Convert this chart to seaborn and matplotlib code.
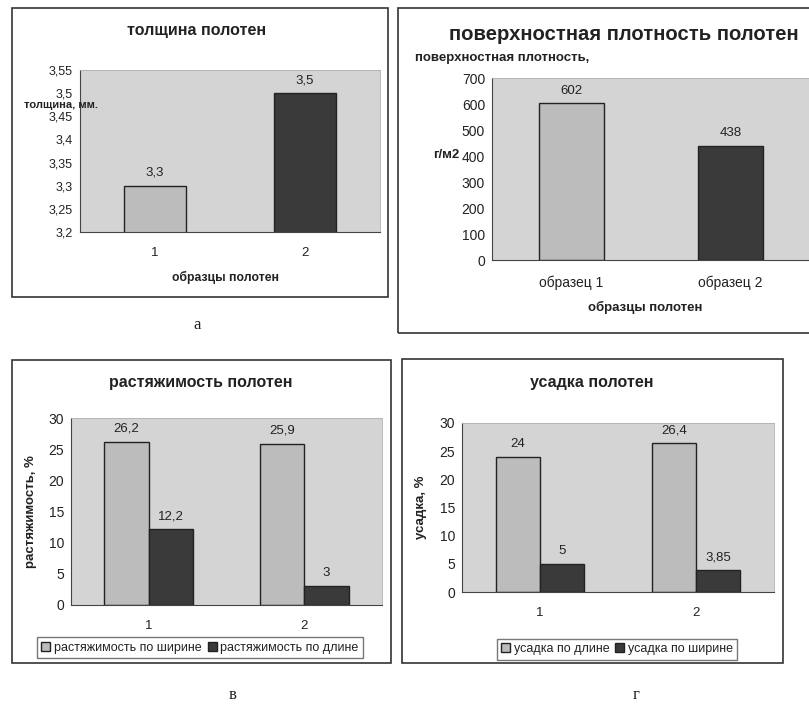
import pandas as pd
import matplotlib.pyplot as plt
import matplotlib.patches as mpatches
import seaborn as sns

# Данные
thick_samples = ["1", "2"]
thick_values = [3.3, 3.5]

dens_samples = ["образец 1", "образец 2"]
dens_values = [602, 438]

stretch_samples = ["1", "2"]
stretch_width = [26.2, 25.9]
stretch_length = [12.2, 3]
stretch_series = ["растяжимость по ширине", "растяжимость по длине"]

shrink_samples = ["1", "2"]
shrink_length = [24, 26.4]
shrink_width = [5, 3.85]
shrink_series = ["усадка по длине", "усадка по ширине"]

sns.set_style("white")
plt.rcParams["font.family"] = ["Liberation Sans", "DejaVu Sans"]

W, H = 809, 705
LIGHT = "#bcbcbc"
DARK = "#3a3a3a"
BG = "#d4d4d4"
TXT = "#222222"

fig = plt.figure(figsize=(W / 100, H / 100), dpi=100)


def px_axes(x0, y0, x1, y1):
    # пиксели (верх слева) -> координаты фигуры
    return fig.add_axes([x0 / W, 1 - y1 / H, (x1 - x0) / W, (y1 - y0) / H])


def frame(x0, y0, x1, y1):
    fig.patches.append(mpatches.Rectangle((x0 / W, 1 - y1 / H), (x1 - x0) / W, (y1 - y0) / H,
                                          transform=fig.transFigure, fill=False,
                                          edgecolor="#333333", linewidth=1.2))


def ftext(x, y, s, **kw):
    fig.text(x / W, 1 - y / H, s, color=TXT, **kw)


def comma(v):
    return ("%g" % v).replace(".", ",")


def style_axes(ax, ymin, ymax, step, fmt, xsize=9.5, ysize=10):
    ax.set_facecolor(BG)
    ax.set_ylim(ymin, ymax)
    ticks = []
    t = ymin
    while t <= ymax + 1e-9:
        ticks.append(round(t, 4))
        t += step
    ax.set_yticks(ticks)
    ax.set_yticklabels([fmt(t) for t in ticks])
    ax.set_xlim(-0.5, 1.5)
    ax.set_xticks([0.0, 1.0], minor=False)
    ax.set_xticks([-0.5, 0.5, 1.5], minor=True)
    ax.tick_params(axis="y", length=3, width=0.8, colors="#444444", labelsize=ysize, labelcolor=TXT, pad=2)
    ax.tick_params(axis="x", which="major", length=0, labelsize=xsize, labelcolor=TXT, pad=11)
    ax.tick_params(axis="x", which="minor", length=3, width=0.8, colors="#444444")
    for side in ["top", "right"]:
        ax.spines[side].set_color("#b0b0b0")
        ax.spines[side].set_linewidth(0.6)
    for side in ["left", "bottom"]:
        ax.spines[side].set_color("#444444")
        ax.spines[side].set_linewidth(0.8)
    ax.set_xlabel("")
    ax.set_ylabel("")


def add_labels(ax, values_per_container, pad=5):
    for cont, vals in zip(ax.containers, values_per_container):
        ax.bar_label(cont, labels=[comma(v) for v in vals], padding=pad, fontsize=9.5, color=TXT)


# а) толщина полотен
frame(12, 8, 388, 297)
ax1 = px_axes(80, 70, 380, 232)
df1 = pd.DataFrame({"образец": thick_samples, "толщина": thick_values})
sns.barplot(data=df1, x="образец", y="толщина", hue="образец", palette=[LIGHT, DARK],
            width=0.41, edgecolor="#222222", linewidth=1, legend=False, ax=ax1)
style_axes(ax1, 3.2, 3.55, 0.05, comma, ysize=9)
for cont, v in zip(ax1.containers, thick_values):
    ax1.bar_label(cont, labels=[comma(v)], padding=5, fontsize=9.5, color=TXT)
ftext(197, 31, "толщина полотен", ha="center", va="center", fontsize=11.5, fontweight="bold")
ftext(24, 105, "толщина, мм.", ha="left", va="center", fontsize=8, fontweight="bold")
ftext(226, 277, "образцы полотен", ha="center", va="center", fontsize=8.8, fontweight="bold")
ftext(197, 325, "а", ha="center", va="center", fontsize=12, family="Liberation Serif")

# б) поверхностная плотность полотен
frame(398, 8, 830, 333)
ax2 = px_axes(492, 78, 810, 260)
df2 = pd.DataFrame({"образец": dens_samples, "плотность": dens_values})
sns.barplot(data=df2, x="образец", y="плотность", hue="образец", palette=[LIGHT, DARK],
            width=0.415, edgecolor="#222222", linewidth=1, legend=False, ax=ax2)
style_axes(ax2, 0, 700, 100, lambda t: "%d" % t, xsize=10)
for cont, v in zip(ax2.containers, dens_values):
    ax2.bar_label(cont, labels=[comma(v)], padding=5, fontsize=9.5, color=TXT)
ftext(449, 35, "поверхностная плотность полотен", ha="left", va="center", fontsize=14.6, fontweight="bold")
ftext(415, 58, "поверхностная плотность,", ha="left", va="center", fontsize=9.5, fontweight="bold")
ftext(433, 155, "г/м2", ha="left", va="center", fontsize=9.5, fontweight="bold")
ftext(645, 307, "образцы полотен", ha="center", va="center", fontsize=9.5, fontweight="bold")

# в) растяжимость полотен
frame(12, 360, 391, 663)
ax3 = px_axes(71, 418, 382, 605)
df3 = pd.DataFrame({
    "образец": stretch_samples * 2,
    "серия": [stretch_series[0]] * 2 + [stretch_series[1]] * 2,
    "значение": stretch_width + stretch_length,
})
sns.barplot(data=df3, x="образец", y="значение", hue="серия", palette=[LIGHT, DARK],
            width=0.57, edgecolor="#222222", linewidth=1, ax=ax3)
style_axes(ax3, 0, 30, 5, lambda t: "%d" % t)
add_labels(ax3, [stretch_width, stretch_length])
ax3.legend(loc="upper center", bbox_to_anchor=((200 - 71) / 311, -0.14), ncol=2, fontsize=9,
           frameon=True, fancybox=False, edgecolor="#555555", handlelength=0.7, handleheight=0.7,
           handletextpad=0.3, columnspacing=0.5, borderpad=0.35, labelcolor=TXT)
ax3.set_ylabel("растяжимость, %", fontsize=9.5, fontweight="bold", color=TXT)
ax3.yaxis.set_label_coords((37 - 71) / 311, 0.5)
ftext(201, 383, "растяжимость полотен", ha="center", va="center", fontsize=11.5, fontweight="bold")
ftext(233, 695, "в", ha="center", va="center", fontsize=12, family="Liberation Serif")

# г) усадка полотен
frame(402, 359, 783, 663)
ax4 = px_axes(462, 423, 774, 592)
df4 = pd.DataFrame({
    "образец": shrink_samples * 2,
    "серия": [shrink_series[0]] * 2 + [shrink_series[1]] * 2,
    "значение": shrink_length + shrink_width,
})
sns.barplot(data=df4, x="образец", y="значение", hue="серия", palette=[LIGHT, DARK],
            width=0.57, edgecolor="#222222", linewidth=1, ax=ax4)
style_axes(ax4, 0, 30, 5, lambda t: "%d" % t)
add_labels(ax4, [shrink_length, shrink_width])
ax4.legend(loc="upper center", bbox_to_anchor=((617 - 462) / 312, -0.24), ncol=2, fontsize=9,
           frameon=True, fancybox=False, edgecolor="#555555", handlelength=0.7, handleheight=0.7,
           handletextpad=0.3, columnspacing=0.5, borderpad=0.35, labelcolor=TXT)
ax4.set_ylabel("усадка, %", fontsize=9.5, fontweight="bold", color=TXT)
ax4.yaxis.set_label_coords((427 - 462) / 312, 0.5)
ftext(592, 383, "усадка полотен", ha="center", va="center", fontsize=11.5, fontweight="bold")
ftext(636, 695, "г", ha="center", va="center", fontsize=12, family="Liberation Serif")

fig.savefig("out.png", dpi=100, facecolor="white")
